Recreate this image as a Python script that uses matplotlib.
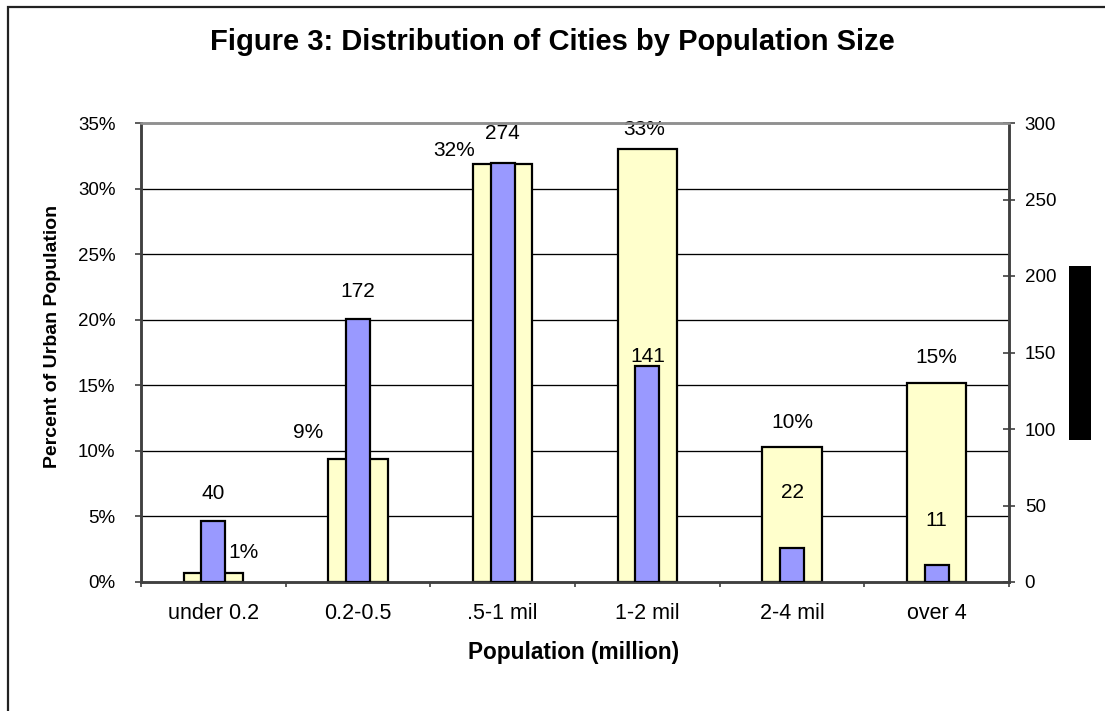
import matplotlib
matplotlib.use("Agg")
import matplotlib.pyplot as plt
from matplotlib.patches import Rectangle
import numpy as np

plt.rcParams['font.family'] = ['Liberation Sans', 'DejaVu Sans']

# ---- data ----
categories = ["under 0.2", "0.2-0.5", ".5-1 mil", "1-2 mil", "2-4 mil", "over 4"]
pct_urban_pop = [0.7, 9.4, 31.9, 33.0, 10.3, 15.2]       # left axis (%)
pct_labels = ["1%", "9%", "32%", "33%", "10%", "15%"]
num_cities = [40, 172, 274, 141, 22, 11]                  # right axis (count)
left_ticks = [0, 5, 10, 15, 20, 25, 30, 35]
right_ticks = [0, 50, 100, 150, 200, 250, 300]

# label offsets (pixels: dx, dy up) — layout only
pct_offsets = [(30, 20), (-50, 26), (-49, 13), (-3, 20), (0, 24), (0, 25)]
city_offsets = [(0, 27), (0, 27), (0, 29), (0, 10), (0, 56), (0, 45)]

W, H = 1105, 711
fig = plt.figure(figsize=(W / 100, H / 100), dpi=100)
px = 0.72  # points per pixel

L, R, T, B = 141, 1009, 123, 582
ax = fig.add_axes([L / W, 1 - B / H, (R - L) / W, (B - T) / H])
ax2 = ax.twinx()

x = np.arange(len(categories))
yellow = "#FFFFCC"
blue = "#9999FF"

ax.bar(x, pct_urban_pop, width=0.41, color=yellow, edgecolor="black", linewidth=1.6, zorder=3)
ax2.bar(x, num_cities, width=0.166, color=blue, edgecolor="black", linewidth=1.6, zorder=3)

ax.set_xlim(-0.5, len(categories) - 0.5)
ax.set_ylim(0, 35)
ax2.set_ylim(0, 300)

ax.set_yticks(left_ticks)
ax.set_yticklabels([f"{t}%" for t in left_ticks])
ax2.set_yticks(right_ticks)
ax2.set_yticklabels([str(t) for t in right_ticks])

# gridlines
for t in left_ticks[1:-1]:
    ax.axhline(t, color="black", linewidth=0.95, zorder=1)

ax.set_xticks(x)
ax.set_xticklabels(categories, fontsize=15.5)
ax.set_xticks(np.arange(-0.5, len(categories), 1.0), minor=True)
ax.tick_params(axis="x", which="major", length=0, pad=15)
ax.tick_params(axis="x", which="minor", length=5 * px, width=1.2, color="#404040", direction="out")
ax.tick_params(axis="y", which="major", length=6 * px, width=1.2, color="#404040", direction="out",
               labelsize=13.5, pad=14)
ax2.tick_params(axis="y", which="major", length=12 * px, width=1.2, color="#404040", direction="inout",
                labelsize=13.5, pad=7)
ax2.tick_params(axis="x", length=0)

for a in (ax, ax2):
    for s in ("left", "right", "bottom"):
        a.spines[s].set_color("#404040")
        a.spines[s].set_linewidth(1.8)
    a.spines["top"].set_color("#909090")
    a.spines["top"].set_linewidth(1.8)

# data labels
for i, (v, lab) in enumerate(zip(pct_urban_pop, pct_labels)):
    dx, dy = pct_offsets[i]
    ax.annotate(lab, xy=(x[i], v), xytext=(dx * px, dy * px), textcoords="offset points",
                ha="center", va="center", fontsize=15, zorder=5)
for i, v in enumerate(num_cities):
    dx, dy = city_offsets[i]
    ax2.annotate(str(v), xy=(x[i], v), xytext=(dx * px, dy * px), textcoords="offset points",
                 ha="center", va="center", fontsize=15, zorder=5)

# titles / axis labels
fig.text(552 / W, 1 - 50 / H, "Figure 3: Distribution of Cities by Population Size",
         ha="center", va="baseline", fontsize=21, fontweight="bold")
fig.text(53 / W, 1 - 336 / H, "Percent of Urban Population", rotation=90,
         ha="center", va="center", fontsize=14, fontweight="bold")
fig.text(574 / W, 1 - 652 / H, "Population (million)", ha="center", va="center",
         fontsize=16.3, fontweight="bold")

# black block on right (hidden secondary axis title)
fig.add_artist(Rectangle((1069 / W, 1 - 440 / H), 22 / W, 174 / H, transform=fig.transFigure,
                         facecolor="black", edgecolor="none"))
# outer chart border
fig.add_artist(Rectangle((8 / W, -0.2), 1.5, 1.2 - 7 / H, transform=fig.transFigure,
                         facecolor="none", edgecolor="#222222", linewidth=1.6))

fig.savefig("out.png", dpi=100)
